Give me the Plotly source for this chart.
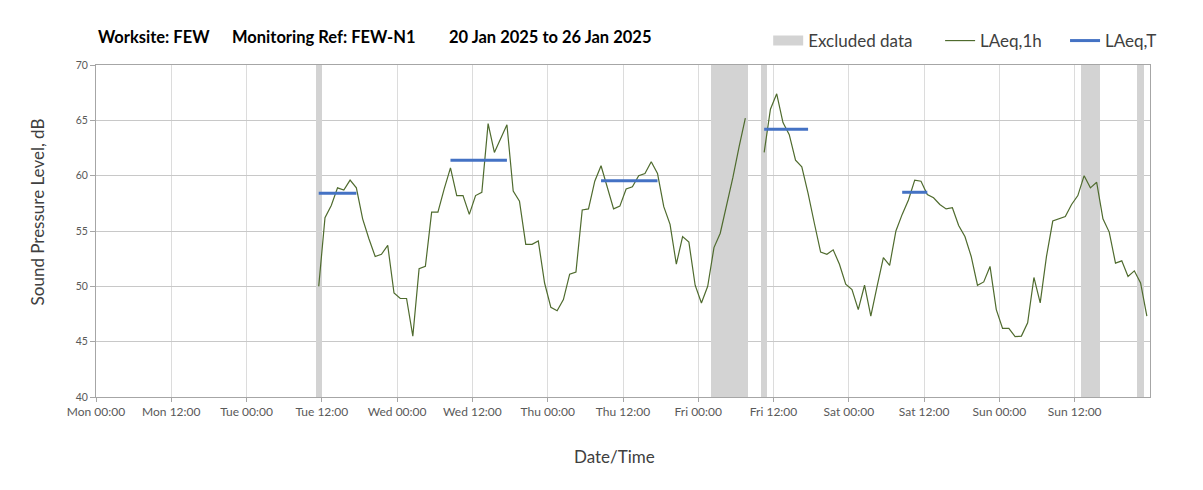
import plotly.graph_objects as go
import pandas as pd

# ---------------- data ----------------
TITLE_PARTS = ["Worksite: FEW", "Monitoring Ref: FEW-N1", "20 Jan 2025 to 26 Jan 2025"]

# hourly LAeq,1h values, first point Tue 21 Jan 2025 11:30, one per hour (None = no data)
LAEQ_1H_START = "2025-01-21 11:30"
LAEQ_1H = [
    50.0, 56.2, 57.3, 58.9, 58.7, 59.6, 58.9, 56.1, 54.3, 52.7, 52.9, 53.7,
    49.4, 48.9, 48.9, 45.5, 51.6, 51.8, 56.7, 56.7, 58.8, 60.7, 58.2, 58.2,
    56.5, 58.2, 58.5, 64.7, 62.1, 63.3, 64.6, 58.6, 57.7, 53.8, 53.8, 54.1,
    50.3, 48.1, 47.8, 48.8, 51.1, 51.3, 56.9, 57.0, 59.5, 60.9, 59.0, 57.0,
    57.25, 58.8, 59.0, 60.0, 60.2, 61.25, 60.2, 57.2, 55.6, 52.0, 54.5, 54.0,
    50.1, 48.5, 50.0, 53.5, 54.8, 57.2, 59.8, 62.6, 65.2, None, None, 62.1,
    66.0, 67.4, 64.8, 63.7, 61.4, 60.8, 58.4, 55.7, 53.1, 52.9, 53.3, 52.0,
    50.2, 49.7, 47.9, 50.1, 47.3, 50.0, 52.6, 51.9, 55.0, 56.5, 57.8, 59.6,
    59.5, 58.3, 58.0, 57.4, 57.0, 57.1, 55.5, 54.5, 52.7, 50.1, 50.4, 51.8,
    47.9, 46.2, 46.2, 45.45, 45.5, 46.7, 50.8, 48.5, 52.7, 55.9, 56.1, 56.3,
    57.4, 58.2, 60.0, 58.9, 59.4, 56.1, 54.9, 52.1, 52.3, 50.9, 51.4, 50.3,
    47.3,
]

LAEQ_T_START = ["2025-01-21 11:30", "2025-01-22 08:30", "2025-01-23 08:30",
                "2025-01-24 10:30", "2025-01-25 08:30"]
LAEQ_T_END = ["2025-01-21 17:30", "2025-01-22 17:30", "2025-01-23 17:30",
              "2025-01-24 17:30", "2025-01-25 12:30"]
LAEQ_T = [58.4, 61.4, 59.55, 64.2, 58.5]

EXCLUDED_HOURS = ["2025-01-21 11:30",
                  "2025-01-24 02:30", "2025-01-24 03:30", "2025-01-24 04:30",
                  "2025-01-24 05:30", "2025-01-24 06:30", "2025-01-24 07:30",
                  "2025-01-24 10:30",
                  "2025-01-26 13:30", "2025-01-26 14:30", "2025-01-26 15:30",
                  "2025-01-26 22:30"]

TICK_TIMES = ["2025-01-20 00:00", "2025-01-20 12:00", "2025-01-21 00:00", "2025-01-21 12:00",
              "2025-01-22 00:00", "2025-01-22 12:00", "2025-01-23 00:00", "2025-01-23 12:00",
              "2025-01-24 00:00", "2025-01-24 12:00", "2025-01-25 00:00", "2025-01-25 12:00",
              "2025-01-26 00:00", "2025-01-26 12:00"]
TICK_LABELS = ["Mon 00:00", "Mon 12:00", "Tue 00:00", "Tue 12:00", "Wed 00:00", "Wed 12:00",
               "Thu 00:00", "Thu 12:00", "Fri 00:00", "Fri 12:00", "Sat 00:00", "Sat 12:00",
               "Sun 00:00", "Sun 12:00"]
X_RANGE = ["2025-01-20 00:00", "2025-01-27 00:00"]
Y_RANGE = [40, 70]

# ---------------- figure ----------------
FONT = "Lato, 'Open Sans', sans-serif"
W, H = 1203, 490          # browser window
OFF = 8                   # page body margin
PL, PR, PT, PB = 95.5, 1150, 65, 397.3   # plot area in page pixels

EXCL_COLOR = "#d3d3d3"
GREEN = "#4F6B2E"
BLUE = "#4472C4"


def px_x(px):
    return (px - PL) / (PR - PL)


def px_y(py):
    return (PB - py) / (PB - PT)


times = pd.date_range(LAEQ_1H_START, periods=len(LAEQ_1H), freq="h")

tx, ty = [], []
for s, e, v in zip(LAEQ_T_START, LAEQ_T_END, LAEQ_T):
    tx += [s, e, None]
    ty += [v, v, None]

fig = go.Figure()
fig.add_trace(go.Bar(
    x=EXCLUDED_HOURS, y=[Y_RANGE[1]] * len(EXCLUDED_HOURS),
    width=3600000, marker=dict(color=EXCL_COLOR, line=dict(width=0)),
    name="Excluded data", hoverinfo="skip", showlegend=False,
))
# legend key for the excluded bands (wide flat swatch as in the original)
fig.add_trace(go.Scatter(
    x=[None], y=[None], mode="lines", name="Excluded data",
    line=dict(color=EXCL_COLOR, width=10), legend="legend",
))
fig.add_trace(go.Scatter(
    x=times, y=LAEQ_1H, mode="lines", name="LAeq,1h",
    line=dict(color=GREEN, width=1.2), connectgaps=False, legend="legend2",
))
fig.add_trace(go.Scatter(
    x=tx, y=ty, mode="lines", name="LAeq,T",
    line=dict(color=BLUE, width=3), legend="legend3",
))

title_x = [95, 230, 447]
for txt, xp in zip(TITLE_PARTS, title_x):
    fig.add_annotation(text="<b>" + txt + "</b>", xref="paper", yref="paper",
                       x=px_x(xp), y=px_y(37), xanchor="left", yanchor="middle",
                       showarrow=False, font=dict(family=FONT, size=16.5, color="#000000"))

fig.add_annotation(text="Sound Pressure Level, dB", xref="paper", yref="paper",
                   x=px_x(37), y=px_y(212), textangle=-90, xanchor="center", yanchor="middle",
                   showarrow=False, font=dict(family=FONT, size=17, color="#404040"))
fig.add_annotation(text="Date/Time", xref="paper", yref="paper",
                   x=px_x(614), y=px_y(457), xanchor="center", yanchor="middle",
                   showarrow=False, font=dict(family=FONT, size=17, color="#404040"))

fig.add_shape(type="rect", xref="paper", yref="paper",
              x0=px_x(4), y0=px_y(4), x1=px_x(1400), y1=px_y(800),
              line=dict(color="#d9d9d9", width=1), fillcolor="rgba(0,0,0,0)", layer="below")


def legend_at(px_left):
    return dict(orientation="h", x=px_x(px_left), y=px_y(41), xanchor="left", yanchor="middle",
                font=dict(family=FONT, size=17, color="#404040"),
                bgcolor="rgba(0,0,0,0)", borderwidth=0)


fig.update_layout(
    width=W - OFF, height=H - OFF,
    margin=dict(l=PL - OFF, r=W - PR, t=PT - OFF, b=H - PB, pad=0),
    paper_bgcolor="white", plot_bgcolor="white",
    font=dict(family=FONT, color="#595959"),
    showlegend=True,
    legend=legend_at(768),
    legend2=legend_at(940),
    legend3=legend_at(1065),
    bargap=0,
    xaxis=dict(type="date", range=X_RANGE, tickvals=TICK_TIMES, ticktext=TICK_LABELS,
               showgrid=True, gridcolor="#dcdcdc", gridwidth=1,
               showline=True, linecolor="#a6a6a6", mirror=True,
               ticks="outside", ticklen=4, tickcolor="#a6a6a6",
               tickfont=dict(family=FONT, size=12, color="#595959"), zeroline=False),
    yaxis=dict(range=Y_RANGE, dtick=5, tick0=40,
               showgrid=True, gridcolor="#c8c8c8", gridwidth=1,
               showline=True, linecolor="#a6a6a6", mirror=True,
               ticks="outside", ticklen=5, tickcolor="#a6a6a6",
               tickfont=dict(family=FONT, size=10.5, color="#595959"), zeroline=False),
)

fig.write_html("out.html")
